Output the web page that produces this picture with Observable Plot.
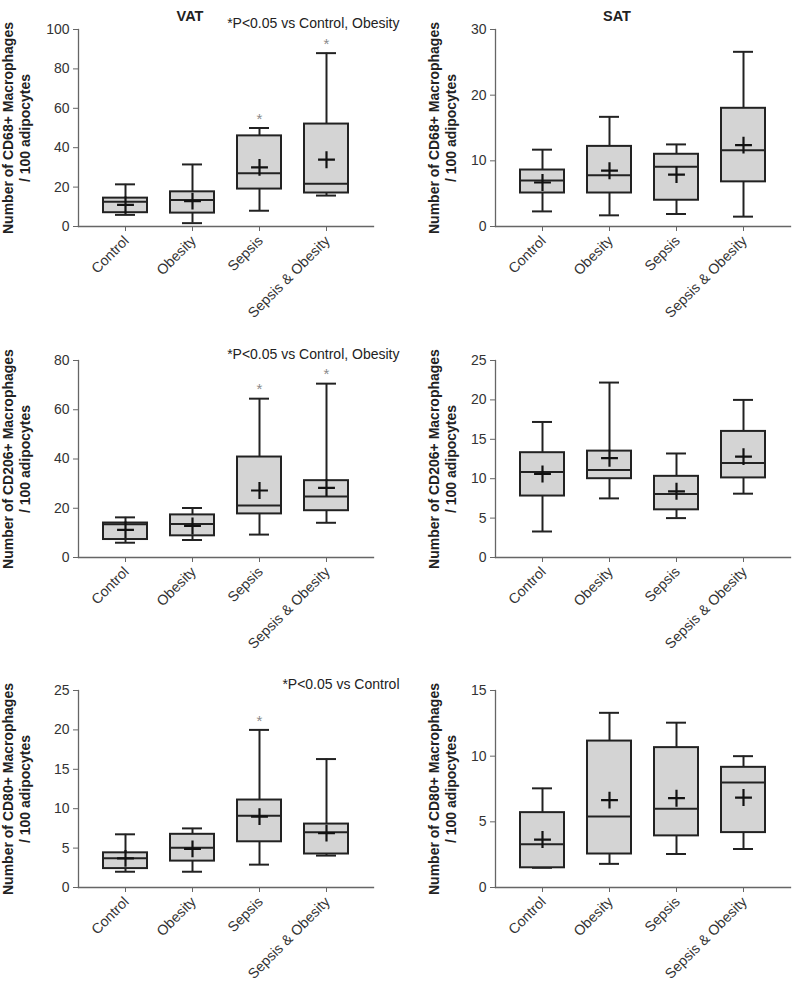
<!DOCTYPE html>
<html>
<head>
<meta charset="utf-8">
<script src="https://cdn.jsdelivr.net/npm/d3@7"></script>
<script src="https://cdn.jsdelivr.net/npm/@observablehq/plot@0.6"></script>
<style>
  html, body { margin: 0; padding: 0; background: #fff; }
  #wrap { position: relative; width: 793px; height: 984px; overflow: hidden; background: #fff; }
  #wrap > svg { position: absolute; }
</style>
</head>
<body>
<div id="wrap"></div>
<script>
// Categories (x axis)
const categories = ["Control", "Obesity", "Sepsis", "Sepsis & Obesity"];

// Box statistics per category: [min, q1, median, q3, max, mean]
const vatCD68 = [
  [5.9, 7.0, 12.6, 14.4, 21.4, 11.0],
  [1.7, 6.8, 13.5, 17.6, 31.5, 12.9],
  [8.0, 19.0, 27.0, 46.0, 50.0, 30.0],
  [15.7, 17.0, 21.7, 52.0, 88.0, 33.9]
];
const satCD68 = [
  [2.3, 5.1, 7.0, 8.6, 11.7, 6.7],
  [1.7, 5.1, 7.8, 12.2, 16.7, 8.5],
  [1.9, 4.0, 9.1, 11.0, 12.5, 7.9],
  [1.5, 6.8, 11.6, 18.0, 26.6, 12.4]
];
const vatCD206 = [
  [6.0, 7.3, 13.5, 14.0, 16.3, 11.2],
  [7.1, 8.8, 13.6, 17.3, 20.1, 12.8],
  [9.3, 17.7, 21.1, 40.8, 64.5, 27.2],
  [14.1, 19.0, 24.8, 31.2, 70.6, 28.3]
];
const satCD206 = [
  [3.3, 7.8, 10.85, 13.3, 17.2, 10.6],
  [7.5, 10.0, 11.1, 13.5, 22.2, 12.6],
  [5.0, 6.05, 8.05, 10.3, 13.2, 8.4],
  [8.1, 10.1, 12.0, 16.0, 20.0, 12.8]
];
const vatCD80 = [
  [2.0, 2.4, 3.7, 4.4, 6.75, 3.7],
  [2.0, 3.35, 5.05, 6.75, 7.5, 4.9],
  [2.9, 5.8, 9.1, 11.1, 20.0, 9.0],
  [4.05, 4.25, 7.0, 8.05, 16.3, 6.9]
];
const satCD80 = [
  [1.5, 1.5, 3.3, 5.7, 7.55, 3.65],
  [1.8, 2.55, 5.4, 11.15, 13.3, 6.65],
  [2.55, 3.93, 6.0, 10.65, 12.55, 6.8],
  [2.93, 4.18, 8.0, 9.15, 10.0, 6.85]
];

// Significance markers (categories with a star above the whisker)
const vatCD68Stars = ["Sepsis", "Sepsis & Obesity"];
const vatCD206Stars = ["Sepsis", "Sepsis & Obesity"];
const vatCD80Stars = ["Sepsis"];

// Y axis ticks
const vatCD68Ticks = [0, 20, 40, 60, 80, 100];
const satCD68Ticks = [0, 10, 20, 30];
const vatCD206Ticks = [0, 20, 40, 60, 80];
const satCD206Ticks = [0, 5, 10, 15, 20, 25];
const vatCD80Ticks = [0, 5, 10, 15, 20, 25];
const satCD80Ticks = [0, 5, 10, 15];

// Texts
const yLabels = [
  "Number of CD68+ Macrophages\n/ 100 adipocytes",
  "Number of CD206+ Macrophages\n/ 100 adipocytes",
  "Number of CD80+ Macrophages\n/ 100 adipocytes"
];
const columnTitles = ["VAT", "SAT"];
const notes = ["*P<0.05 vs Control, Obesity", "*P<0.05 vs Control, Obesity", "*P<0.05 vs Control"];

const panels = [
  {row: 0, col: 0, stats: vatCD68, ticks: vatCD68Ticks, stars: vatCD68Stars, note: notes[0], title: columnTitles[0]},
  {row: 0, col: 1, stats: satCD68, ticks: satCD68Ticks, stars: [], note: null, title: columnTitles[1]},
  {row: 1, col: 0, stats: vatCD206, ticks: vatCD206Ticks, stars: vatCD206Stars, note: notes[1], title: null},
  {row: 1, col: 1, stats: satCD206, ticks: satCD206Ticks, stars: [], note: null, title: null},
  {row: 2, col: 0, stats: vatCD80, ticks: vatCD80Ticks, stars: vatCD80Stars, note: notes[2], title: null},
  {row: 2, col: 1, stats: satCD80, ticks: satCD80Ticks, stars: [], note: null, title: null}
];

const rowTops = [0, 331, 661];
const colLefts = [0, 417];
const ink = "#222";
const font = "'Liberation Sans', Arial, Helvetica, sans-serif";

const wrap = document.getElementById("wrap");

for (const p of panels) {
  const rows = categories.map((cat, i) => {
    const [min, q1, med, q3, max, mean] = p.stats[i];
    return {cat, min, q1, med, q3, max, mean};
  });
  const starRows = rows.filter(d => p.stars.includes(d.cat));
  const left = p.col === 0;
  const width = left ? 400 : 376;
  const marks = [
    Plot.frame({anchor: "left", stroke: "#666", strokeWidth: 1.3}),
    Plot.frame({anchor: "bottom", stroke: "#666", strokeWidth: 1.3}),
    Plot.axisX({tickSize: 5, tickFormat: () => "", stroke: "#666"}),
    Plot.text(categories, {x: d => d, frameAnchor: "bottom", rotate: -45, textAnchor: "end", lineAnchor: "middle", dx: 1, dy: 12, fontSize: 14.3, fill: "#333"}),
    Plot.axisY({ticks: p.ticks, tickSize: 5, tickPadding: 4, fontSize: 14, fill: "#333", stroke: "#666"}),
    Plot.ruleX(rows, {x: "cat", y1: "min", y2: "q1", stroke: ink, strokeWidth: 2}),
    Plot.ruleX(rows, {x: "cat", y1: "q3", y2: "max", stroke: ink, strokeWidth: 2}),
    Plot.tickY(rows, {x: "cat", y: "min", insetLeft: 12, insetRight: 12, stroke: ink, strokeWidth: 2}),
    Plot.tickY(rows, {x: "cat", y: "max", insetLeft: 12, insetRight: 12, stroke: ink, strokeWidth: 2}),
    Plot.barY(rows, {x: "cat", y1: "q1", y2: "q3", fill: "#d4d4d4", stroke: ink, strokeWidth: 2}),
    Plot.tickY(rows, {x: "cat", y: "med", stroke: ink, strokeWidth: 2}),
    Plot.dot(rows, {x: "cat", y: "mean", symbol: "plus", r: 5.5, stroke: "#111", strokeWidth: 2.2}),
    Plot.text(starRows, {x: "cat", y: "max", text: () => "*", dy: -9, fill: "#8a8a8a", fontSize: 15}),
    Plot.text([yLabels[p.row]], {frameAnchor: "left", dx: left ? -62 : -53.5, rotate: -90, textAnchor: "middle", lineAnchor: "middle", fontWeight: "bold", fontSize: 14, lineHeight: 1.2, fill: ink})
  ];
  if (p.note) {
    marks.push(Plot.text([p.note], {frameAnchor: "top-right", dx: 26, dy: -11, textAnchor: "end", fontSize: 14, fill: ink}));
  }
  if (p.title) {
    marks.push(Plot.text([p.title], {frameAnchor: "top", dx: left ? -36 : -26, dy: -19, fontWeight: "bold", fontSize: 14.5, fill: ink}));
  }
  const chart = Plot.plot({
    width,
    height: 323,
    marginLeft: 78,
    marginRight: left ? 27 : 3,
    marginTop: 29,
    marginBottom: 97,
    style: {fontFamily: font, fontSize: "14px", color: "#333", background: "transparent", overflow: "visible"},
    x: {domain: categories, padding: 0.35, label: null, axis: null},
    y: {domain: [0, p.ticks[p.ticks.length - 1]], label: null, axis: null},
    marks
  });
  chart.style.left = colLefts[p.col] + "px";
  chart.style.top = rowTops[p.row] + "px";
  wrap.appendChild(chart);
}
</script>
</body>
</html>
